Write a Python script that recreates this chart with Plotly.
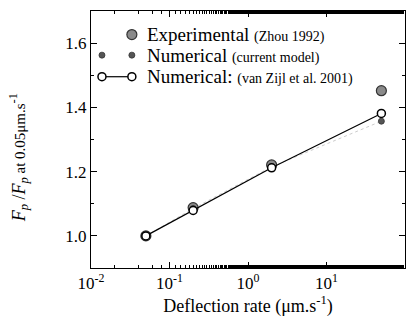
import plotly.graph_objects as go

rate = [0.05, 0.2, 2, 50]
experimental = [1.0, 1.088, 1.221, 1.452]
numerical_current = [1.0, 1.085, 1.215, 1.357]
numerical_vanzijl = [1.0, 1.079, 1.212, 1.381]

xtick_vals = [0.01, 0.1, 1, 10, 100]
xtick_text = ["10<sup>-2</sup>", "10<sup>-1</sup>", "10<sup>0</sup>", "10<sup>1</sup>", "10<sup>2</sup>"]
ytick_vals = [1.0, 1.2, 1.4, 1.6]
ytick_text = ["1.0", "1.2", "1.4", "1.6"]

legend_main = ["Experimental", "Numerical", "Numerical:"]
legend_sub = ["(Zhou 1992)", "(current model)", "(van Zijl et al. 2001)"]

FONT = "Liberation Serif"
EXP_FILL, EXP_LINE = "#8a8a8a", "#333333"
CUR_FILL = "#555555"

W, H = 416, 320
ML, MR, MT, MB = 91, 10, 10, 48
PW, PH = W - ML - MR, H - MT - MB


def px(x):
    return (x - ML) / PW


def py(y):
    return (H - MB - y) / PH


fig = go.Figure()
fig.add_trace(go.Scatter(
    x=rate, y=experimental, mode="markers", name="Experimental",
    marker=dict(size=10, color=EXP_FILL, line=dict(color=EXP_LINE, width=1.2)),
))
fig.add_trace(go.Scatter(
    x=rate, y=numerical_current, mode="lines+markers", name="Numerical (current)",
    line=dict(color="#cccccc", width=1, dash="dot"),
    marker=dict(size=6, color=CUR_FILL, line=dict(color="#333", width=0.8)),
))
fig.add_trace(go.Scatter(
    x=rate, y=numerical_vanzijl, mode="lines+markers", name="Numerical (van Zijl)",
    line=dict(color="black", width=1.2),
    marker=dict(size=8, color="white", line=dict(color="black", width=1.5)),
))

# manual legend
rows_y = [34, 55, 77]
annotations = []
for yy, m, s in zip(rows_y, legend_main, legend_sub):
    annotations.append(dict(
        xref="paper", yref="paper", x=px(145), y=py(yy), xanchor="left", yanchor="middle",
        text=f'{m} <span style="font-size:14px">{s}</span>', showarrow=False,
        font=dict(size=19, family=FONT, color="black"),
    ))

annotations.append(dict(
    xref="paper", yref="paper", x=px(18), y=py(160), xanchor="center", yanchor="middle",
    textangle=-90, showarrow=False,
    text='<i>F</i><sub><i>p</i></sub> /<i>F</i><sub><i>p</i></sub><span style="font-size:15px"> at 0.05μm.s</span><sup>-1</sup>',
    font=dict(size=18, family=FONT, color="black"),
))


def circ(cx, cy, d, fill, line, lw):
    return dict(type="circle", xref="paper", yref="paper", xsizemode="pixel", ysizemode="pixel",
                xanchor=px(cx), yanchor=py(cy), x0=-d / 2, x1=d / 2, y0=-d / 2, y1=d / 2,
                fillcolor=fill, line=dict(color=line, width=lw), layer="above")


shapes = [
    circ(132, rows_y[0], 10, EXP_FILL, EXP_LINE, 1.2),
    circ(102, rows_y[1], 6, CUR_FILL, "#333", 0.8),
    circ(132, rows_y[1], 6, CUR_FILL, "#333", 0.8),
    dict(type="line", xref="paper", yref="paper", x0=px(102), x1=px(132), y0=py(rows_y[2]), y1=py(rows_y[2]),
         line=dict(color="black", width=1.2), layer="above"),
    circ(102, rows_y[2], 8, "white", "black", 1.5),
    circ(132, rows_y[2], 8, "white", "black", 1.5),
]

fig.update_layout(
    width=W, height=H,
    margin=dict(l=ML, r=MR, t=MT, b=MB),
    paper_bgcolor="white", plot_bgcolor="white",
    font=dict(family=FONT, size=17, color="black"),
    showlegend=False,
    annotations=annotations, shapes=shapes,
)

fig.update_xaxes(
    type="log", range=[-2, 2],
    tickvals=xtick_vals, ticktext=xtick_text,
    ticks="inside", ticklen=6, tickcolor="black",
    showline=True, linecolor="black", linewidth=1, mirror="ticks",
    showgrid=False, zeroline=False,
    minor=dict(ticks="inside", ticklen=3, tickcolor="black", showgrid=False),
    title=dict(text="Deflection rate (μm.s<sup>-1</sup>)", font=dict(size=18, family=FONT), standoff=4),
    tickfont=dict(size=17, family=FONT),
)
fig.update_yaxes(
    range=[0.9, 1.7],
    tickvals=ytick_vals, ticktext=ytick_text,
    ticks="inside", ticklen=6, tickcolor="black",
    showline=True, linecolor="black", linewidth=1, mirror="ticks",
    showgrid=False, zeroline=False,
    minor=dict(ticks="inside", ticklen=3, tickcolor="black", dtick=0.1, showgrid=False),
    tickfont=dict(size=17, family=FONT),
)

fig.write_html("out.html")
